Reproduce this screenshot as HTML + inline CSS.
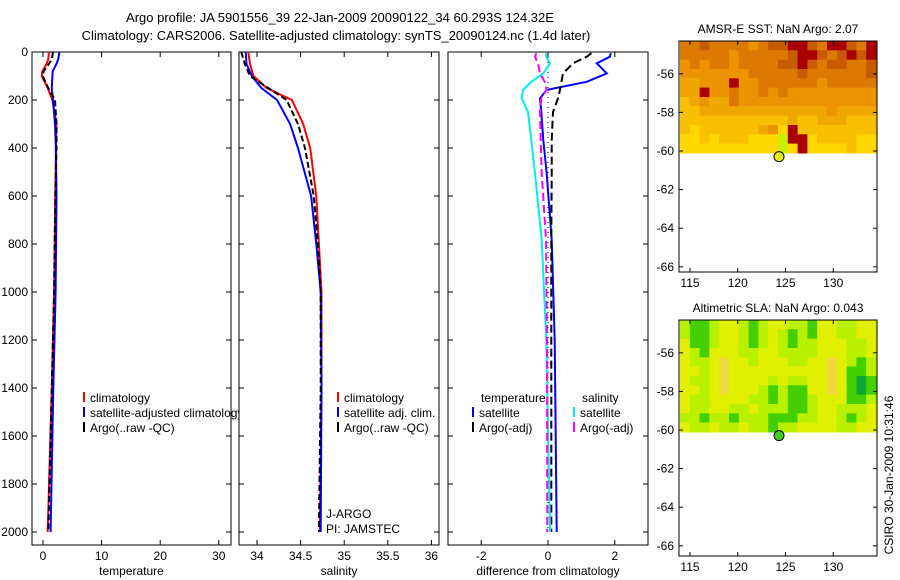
<!DOCTYPE html>
<html><head><meta charset="utf-8"><style>
body{margin:0;background:#fff}
svg{display:block;font-family:"Liberation Sans",sans-serif;font-size:12px}
</style></head><body>
<svg id="fig" width="900" height="580" viewBox="0 0 900 580" xmlns="http://www.w3.org/2000/svg">
<text x="340" y="22" text-anchor="middle" font-size="13">Argo profile: JA 5901556_39 22-Jan-2009 20090122_34 60.293S 124.32E</text>
<text x="336" y="40" text-anchor="middle" font-size="13">Climatology: CARS2006. Satellite-adjusted climatology: synTS_20090124.nc (1.4d later)</text>
<g id="layer"></g>
</svg>
<script>
// ---- profile data (depth in m) ----
const tDepth=[0,30,50,80,100,150,200,300,400,600,1000,1400,2000];
const tClim=[1.0,0.9,0.6,-0.1,-0.2,0.8,1.6,2.3,2.2,2.1,1.9,1.5,0.8];
const tSat=[2.8,2.6,2.3,1.65,1.6,1.5,1.7,2.05,2.2,2.3,2.15,1.75,1.3];
const tArgo=[1.7,1.5,1.0,0.1,-0.05,0.9,2.05,2.3,2.3,2.1,1.9,1.5,0.9];
const sDepth=[0,50,100,150,200,300,400,600,800,1000,1400,2000];
const sClim=[33.90,33.92,33.96,34.11,34.40,34.53,34.61,34.68,34.71,34.74,34.74,34.72];
const sSat=[33.87,33.88,33.94,34.05,34.23,34.38,34.47,34.62,34.68,34.73,34.74,34.73];
const sArgo=[33.82,33.86,33.92,34.13,34.34,34.47,34.55,34.65,34.70,34.73,34.73,34.71];
const dDepth=[5,20,47,89,124,158,193,250,367,506,783,1200,2000];
const dTSat=[1.88,1.85,1.46,1.76,1.16,-0.04,-0.24,-0.2,-0.14,-0.04,0.11,0.2,0.26];
const dTArgo=[1.3,1.16,0.75,0.45,0.4,0.36,0.3,0.15,0.11,0.11,0.1,0.1,0.1];
const dSSat=[-0.06,-0.05,0.06,-0.14,-0.5,-0.75,-0.79,-0.6,-0.5,-0.39,-0.19,-0.05,0.06];
const dSArgo=[-0.35,-0.39,-0.3,-0.24,-0.1,-0.04,-0.2,-0.24,-0.22,-0.19,-0.06,-0.03,-0.02];
const depthTicks=[0,200,400,600,800,1000,1200,1400,1600,1800,2000];
const tTicks=[0,10,20,30];
const sTicks=[34,34.5,35,35.5,36];
const dTicks=[-2,0,2];
// ---- maps ----
const sstRows=["55655554566776577657","55555455555677656767","45455455556676566556","44444445555565555556","33444744555555455555","33744544545444444444","23433544444444444444","22333333333333343333","22222222222322333222","21222222341722222222","11212221110771222211","11111111110171111211"];
const slaRows=["23321123211223112211","23321123212323112211","13321123212322111221","12311122112222111221","12210112111221101232","11210111111111101332","12210111121221101343","11210111232331101343","12211112232332111332","12211221222332112221","22322322233322112321","12212212232211112211"];
const lonTicks=[115,120,125,130];
const latTicks=[-56,-58,-60,-62,-64,-66];
const argoLon=124.32, argoLat=-60.293;

const NS="http://www.w3.org/2000/svg";
const L=document.getElementById('layer');
function mk(tag,at,parent){const e=document.createElementNS(NS,tag);for(const k in at)e.setAttribute(k,at[k]);(parent||L).appendChild(e);return e;}
const Y0=52,DS=0.24;
const yD=d=>Y0+d*DS;
const panels=[
 {x0:32,x1:231,sx:v=>43+v*5.86,ticks:tTicks,lab:"temperature",name:"temperature-panel",ylab:true},
 {x0:239,x1:439,sx:v=>257+(v-34)*87.2,ticks:sTicks,lab:"salinity",name:"salinity-panel"},
 {x0:448,x1:648,sx:v=>548+v*33.4,ticks:dTicks,lab:"difference from climatology",name:"difference-panel"}];
const PB=545;
function line(p,ds,vs,col,dash,name,w){
  let d="";ds.forEach((dd,i)=>{d+=(i?"L":"M")+p.sx(vs[i]).toFixed(1)+","+yD(dd).toFixed(1);});
  const e=mk('path',{d:d,fill:"none",stroke:col,"stroke-width":w||2,"stroke-dasharray":dash||"none","clip-path":"url(#c"+p.idx+")"});
  
  
}
const defs=mk('defs',{});
const lc=mk('clipPath',{id:"legclip"},defs);mk('rect',{x:0,y:0,width:238.5,height:580},lc);
panels.forEach((p,i)=>{
  p.idx=i;
  const cp=mk('clipPath',{id:"c"+i},defs);mk('rect',{x:p.x0,y:Y0,width:p.x1-p.x0,height:PB-Y0},cp);
  const bg=mk('rect',{x:p.x0,y:Y0,width:p.x1-p.x0,height:PB-Y0,fill:"#fff",stroke:"#000","stroke-width":1});
  
  
  p.ticks.forEach(t=>{const x=p.sx(t);
    mk('line',{x1:x,x2:x,y1:PB,y2:PB-5,stroke:"#000"});mk('line',{x1:x,x2:x,y1:Y0,y2:Y0+5,stroke:"#000"});
    const tx=mk('text',{x:x,y:PB+15,"text-anchor":"middle"});tx.textContent=String(t);
    
    });
  depthTicks.forEach(d=>{const y=yD(d);
    mk('line',{x1:p.x0,x2:p.x0+5,y1:y,y2:y,stroke:"#000"});mk('line',{x1:p.x1,x2:p.x1-5,y1:y,y2:y,stroke:"#000"});
    if(p.ylab){const tx=mk('text',{x:p.x0-4,y:y+4,"text-anchor":"end"});tx.textContent=String(d);
      
      }});
  const al=mk('text',{x:(p.x0+p.x1)/2,y:575,"text-anchor":"middle"});al.textContent=p.lab;
  
  
});
const [P1,P2,P3]=panels;
line(P1,tDepth,tClim,"#f00",null,"temp-climatology-line");
line(P1,tDepth,tSat,"#00f",null,"temp-satellite-line");
line(P1,tDepth,tArgo,"#000","6,3","temp-argo-line");
line(P2,sDepth,sClim,"#f00",null,"sal-climatology-line");
line(P2,sDepth,sSat,"#00f",null,"sal-satellite-line");
line(P2,sDepth,sArgo,"#000","6,3","sal-argo-line");
const z=mk('line',{x1:P3.sx(0),x2:P3.sx(0),y1:Y0,y2:yD(2000),stroke:"#000","stroke-dasharray":"1,4"});


line(P3,dDepth,dTSat,"#00f",null,"diff-temp-satellite-line");
line(P3,dDepth,dTArgo,"#000","8,4","diff-temp-argo-line");
line(P3,dDepth,dSSat,"#0ee",null,"diff-sal-satellite-line");
line(P3,dDepth,dSArgo,"#f0f","8,4","diff-sal-argo-line");
function legend(x,y,col,txt,name,clip){
  if(col)mk('rect',{x:x,y:y-10,width:2,height:10,fill:col});
  const t=mk('text',{x:x+7,y:y});t.textContent=txt;
  if(clip)t.setAttribute('clip-path','url(#legclip)');
  
  
}
legend(83,402,"#f00","climatology","legend-climatology");
legend(83,417,"#00f","satellite-adjusted climatology","legend-satellite-adjusted",true);
legend(83,432,"#000","Argo(..raw -QC)","legend-argo-raw");
legend(337,402,"#f00","climatology","legend-sal-climatology");
legend(337,417,"#00f","satellite adj. clim.","legend-sal-satellite");
legend(337,432,"#000","Argo(..raw -QC)","legend-sal-argo");
legend(474,402,null,"temperature","legend-temperature-heading");
legend(472,417,"#00f","satellite","legend-temp-satellite");
legend(472,432,"#000","Argo(-adj)","legend-temp-argo");
legend(575,402,null,"salinity","legend-salinity-heading");
legend(573,417,"#0ee","satellite","legend-sal-sat");
legend(573,432,"#f0f","Argo(-adj)","legend-sal-argo-adj");
legend(319,518,null,"J-ARGO","program-label");
legend(319,533,null,"PI: JAMSTEC","pi-label");
// maps
const sstCols=["#ccee00","#ffd800","#f8c000","#f0a800","#ec9400","#dc7a00","#c85a00","#a80000"];
const slaCols=["#f0d840","#e0f000","#b8f000","#44d000","#10a830"];
function map(top,bot,rows,cols,title,name,mcol){
  const x0=679,x1=877,lat0=-54.3;
  const sx=lo=>690+(lo-115)*9.55, sy=la=>top+(lat0-la)*19.3;
  const box=mk('rect',{x:x0,y:top,width:x1-x0,height:bot-top,fill:"#fff",stroke:"#000"});
  
  
  const nr=rows.length,nc=rows[0].length,cw=(x1-x0-2)/nc,ch=(sy(-60.1)-top)/nr;
  rows.forEach((r,i)=>{for(let j=0;j<nc;j++){
    const c=mk('rect',{x:(x0+1+j*cw).toFixed(1),y:(top+i*ch).toFixed(1),width:(cw+0.6).toFixed(1),height:(ch+0.6).toFixed(1),fill:cols[+r[j]]});
    
    }});
  mk('rect',{x:x0,y:top,width:x1-x0,height:bot-top,fill:"none",stroke:"#000"});
  latTicks.forEach(la=>{const y=sy(la);
    mk('line',{x1:x0,x2:x0+4,y1:y,y2:y,stroke:"#000"});mk('line',{x1:x1,x2:x1-4,y1:y,y2:y,stroke:"#000"});
    const t=mk('text',{x:x0-5,y:y+4,"text-anchor":"end"});t.textContent=String(la);
    
    });
  lonTicks.forEach(lo=>{const x=sx(lo);
    mk('line',{x1:x,x2:x,y1:bot,y2:bot-4,stroke:"#000"});mk('line',{x1:x,x2:x,y1:top,y2:top+4,stroke:"#000"});
    const t=mk('text',{x:x,y:bot+15,"text-anchor":"middle"});t.textContent=String(lo);
    
    });
  const tt=mk('text',{x:778,y:top-8,"text-anchor":"middle"});tt.textContent=title;
  
  
  const m=mk('circle',{cx:sx(argoLon),cy:sy(argoLat),r:5,fill:mcol,stroke:"#000"});
  
  
}
map(41,272,sstRows,sstCols,"AMSR-E SST: NaN Argo: 2.07","sst-map","#e8f000");
map(320,556,slaRows,slaCols,"Altimetric SLA: NaN Argo: 0.043","sla-map","#44cc22");
const st=mk('text',{x:0,y:0,transform:"translate(893,475) rotate(-90)","text-anchor":"middle"});
st.textContent="CSIRO 30-Jan-2009 10:31:46";


</script>
</body></html>
